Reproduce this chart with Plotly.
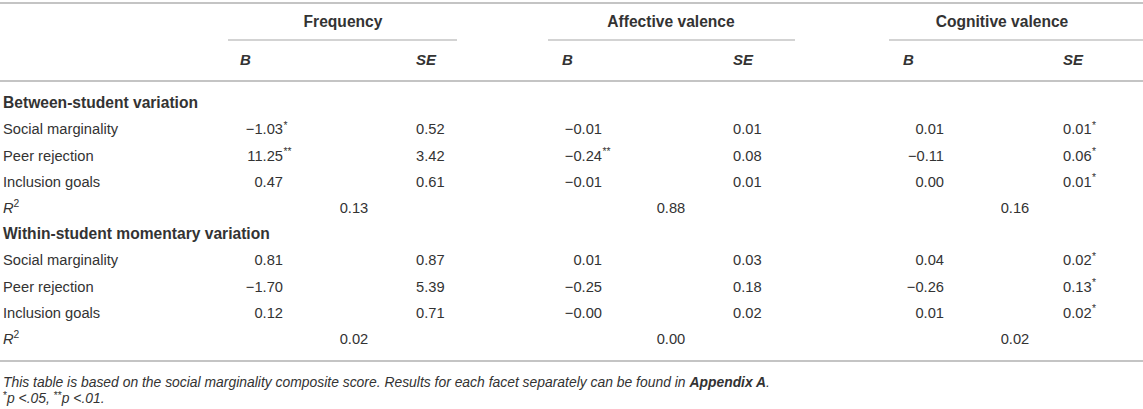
import plotly.graph_objects as go

# table content
outcomes = ["Frequency", "Affective valence", "Cognitive valence"]
sections = ["Between-student variation", "Within-student momentary variation"]
predictors = ["Social marginality", "Peer rejection", "Inclusion goals"]

# B / SE per outcome (trailing asterisks = significance)
between_b_freq = ["-1.03*", "11.25**", "0.47"]
between_se_freq = ["0.52", "3.42", "0.61"]
between_b_aff = ["-0.01", "-0.24**", "-0.01"]
between_se_aff = ["0.01", "0.08", "0.01"]
between_b_cog = ["0.01", "-0.11", "0.00"]
between_se_cog = ["0.01*", "0.06*", "0.01*"]
between_r2 = ["0.13", "0.88", "0.16"]

within_b_freq = ["0.81", "-1.70", "0.12"]
within_se_freq = ["0.87", "5.39", "0.71"]
within_b_aff = ["0.01", "-0.25", "-0.00"]
within_se_aff = ["0.03", "0.18", "0.02"]
within_b_cog = ["0.04", "-0.26", "0.01"]
within_se_cog = ["0.02*", "0.13*", "0.02*"]
within_r2 = ["0.02", "0.00", "0.02"]

note = ("This table is based on the social marginality composite score. "
        "Results for each facet separately can be found in <b>Appendix A</b>.")
sig_parts = [("*", "p &lt;.05, "), ("**", "p &lt;.01.")]

# layout (pixels of the 1143x409 page)
W, H = 1143, 409
FONT = "Liberation Sans, Arial, sans-serif"
TXT = "#333333"
RULE = "#c4c4c4"
FS = 14.7
FS_BOLD = 15.6
FS_NOTE = 13.9
FS_SMALL = 10.3
LIFT = 4.5

group_x = [343, 671, 1002]
group_rule = [(228, 457), (548, 795), (889, 1143)]
b_x = [240, 562, 903]
b_num_x = [283, 602, 944]
se_x = [416, 733, 1063]
se_num_w = 1.946 * FS      # width of "0.00" (Arial metrics)
r_w = 0.722 * FS           # width of italic "R"
r2_x = [354, 671, 1015]
label_x = 3
row_y0, row_dy = 104.5, 26.2
note_y = [384, 400]

# rough Arial advance widths (em) for the significance line
ADV = {"*": 0.389, "p": 0.556, " ": 0.278, "<": 0.584, ".": 0.278,
       ",": 0.278, "0": 0.556, "1": 0.556, "5": 0.556}


def split_sig(s):
    num = s.rstrip("*")
    return num.replace("-", "\u2212"), s[len(num):]


def text_w(s, size):
    return sum(ADV.get(c, 0.556) for c in s.replace("&lt;", "<")) * size


fig = go.Figure()


def add_text(xs, ys, texts, pos, size=FS, color=TXT):
    fig.add_trace(go.Scatter(
        x=xs, y=ys, text=texts, mode="text", textposition=pos,
        textfont=dict(family=FONT, size=size, color=color),
        hoverinfo="skip", showlegend=False, cliponaxis=False))


sec_b = [[between_b_freq, between_b_aff, between_b_cog],
         [within_b_freq, within_b_aff, within_b_cog]]
sec_se = [[between_se_freq, between_se_aff, between_se_cog],
          [within_se_freq, within_se_aff, within_se_cog]]
sec_r2 = [between_r2, within_r2]

# small raised marks: asterisks and the "2" of R²
small_x, small_y, small_t = [], [], []

# row labels
lab_y, lab_t, sec_y = [], [], []
for s, name in enumerate(sections):
    base = s * 5
    sec_y.append(row_y0 + base * row_dy)
    for i, p in enumerate(predictors):
        lab_y.append(row_y0 + (base + 1 + i) * row_dy)
        lab_t.append(p)
    r2_y = row_y0 + (base + 4) * row_dy
    lab_y.append(r2_y)
    lab_t.append("<i>R</i>")
    small_x.append(label_x + r_w)
    small_y.append(r2_y - LIFT)
    small_t.append("2")
add_text([label_x] * len(lab_y), lab_y, lab_t, "middle right")
add_text([label_x] * 2, sec_y, [f"<b>{n}</b>" for n in sections], "middle right", size=FS_BOLD)

# column headers
add_text(group_x, [23.5] * 3, [f"<b>{o}</b>" for o in outcomes], "middle center", size=FS_BOLD)
add_text(b_x, [61] * 3, ["<b><i>B</i></b>"] * 3, "middle right", size=15)
add_text(se_x, [61] * 3, ["<b><i>SE</i></b>"] * 3, "middle right", size=15)

# body values
for s in range(2):
    ys = [row_y0 + (s * 5 + 1 + i) * row_dy for i in range(3)]
    for k in range(3):
        nums = []
        for i, v in enumerate(sec_b[s][k]):
            n, st = split_sig(v)
            nums.append(n)
            if st:
                small_x.append(b_num_x[k] + 0.5)
                small_y.append(ys[i] - LIFT)
                small_t.append(st)
        add_text([b_num_x[k]] * 3, ys, nums, "middle left")
        se_t = []
        for i, v in enumerate(sec_se[s][k]):
            n, st = split_sig(v)
            se_t.append(n)
            if st:
                small_x.append(se_x[k] + se_num_w + 0.5)
                small_y.append(ys[i] - LIFT)
                small_t.append(st)
        add_text([se_x[k]] * 3, ys, se_t, "middle right")
    add_text(r2_x, [row_y0 + (s * 5 + 4) * row_dy] * 3, sec_r2[s], "middle center")

# footnotes
add_text([label_x], [note_y[0]], [f"<i>{note}</i>"], "middle right", size=FS_NOTE)
x = label_x
sig_x, sig_t = [], []
for star, rest in sig_parts:
    small_x.append(x)
    small_y.append(note_y[1] - LIFT * 0.9)
    small_t.append(star)
    x += text_w(star, FS_SMALL)
    sig_x.append(x)
    sig_t.append(f"<i>{rest}</i>")
    x += text_w(rest, FS_NOTE)
add_text(sig_x, [note_y[1]] * len(sig_x), sig_t, "middle right", size=FS_NOTE)
add_text(small_x, small_y, small_t, "middle right", size=FS_SMALL)

# rules
shapes = []
for y in (3, 81, 361):
    shapes.append(dict(type="line", x0=0, x1=W, y0=y, y1=y, xref="x", yref="y",
                       line=dict(color=RULE, width=2)))
for x0, x1 in group_rule:
    shapes.append(dict(type="line", x0=x0, x1=x1, y0=40, y1=40, xref="x", yref="y",
                       line=dict(color=RULE, width=1.5)))

fig.update_layout(
    width=W, height=H, margin=dict(l=0, r=0, t=0, b=0),
    paper_bgcolor="white", plot_bgcolor="white",
    shapes=shapes,
    xaxis=dict(range=[0, W], visible=False, fixedrange=True),
    yaxis=dict(range=[H, 0], visible=False, fixedrange=True),
)

fig.write_html("out.html", config={"displayModeBar": False},
               post_script="document.body.style.margin='0';")
